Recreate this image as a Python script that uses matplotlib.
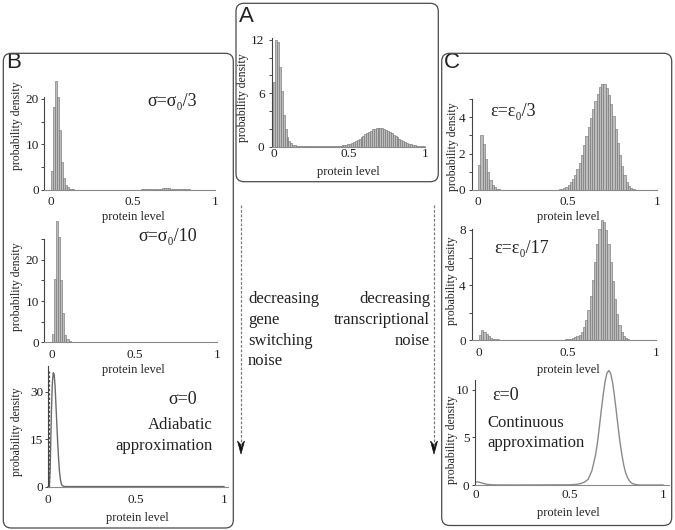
import matplotlib
matplotlib.use("Agg")
import matplotlib.pyplot as plt
from matplotlib.patches import FancyBboxPatch, Polygon
from matplotlib.lines import Line2D
import numpy as np

plt.rcParams['font.family'] = ['Liberation Serif', 'DejaVu Serif']

# ---------------- data ----------------
BIN_WIDTH = 0.0125

hist_A = [7.3, 12.0, 11.8, 9.0, 6.3, 3.6, 2.0, 1.1, 0.6, 0.35,
          0.22, 0.15, 0.10, 0.08, 0.06, 0.05, 0.05, 0.05, 0.05, 0.05,
          0.05, 0.05, 0.05, 0.05, 0.05, 0.05, 0.05, 0.05, 0.05, 0.05,
          0.05, 0.05, 0.05, 0.06, 0.07, 0.09, 0.12, 0.15, 0.20, 0.26,
          0.33, 0.42, 0.52, 0.63, 0.76, 0.90, 1.05, 1.20, 1.36, 1.52,
          1.67, 1.80, 1.92, 2.01, 2.07, 2.10, 2.10, 2.06, 2.00, 1.91,
          1.79, 1.66, 1.51, 1.35, 1.19, 1.04, 0.89, 0.75, 0.62, 0.51,
          0.41, 0.32, 0.25, 0.19, 0.15, 0.11, 0.08, 0.06, 0.04, 0.03]

hist_B1 = [4.2, 18.2, 24.0, 20.4, 13.2, 6.2, 2.6, 1.2, 0.6, 0.3,
           0.15, 0.08, 0.04, 0.03, 0.02, 0.02, 0.02, 0.02, 0.02, 0.02,
           0.02, 0.02, 0.02, 0.02, 0.02, 0.02, 0.02, 0.02, 0.02, 0.02,
           0.02, 0.02, 0.02, 0.02, 0.02, 0.02, 0.02, 0.02, 0.03, 0.04,
           0.05, 0.07, 0.08, 0.10, 0.12, 0.14, 0.17, 0.20, 0.22, 0.25,
           0.27, 0.29, 0.31, 0.32, 0.33, 0.34, 0.34, 0.33, 0.32, 0.31,
           0.29, 0.27, 0.24, 0.22, 0.19, 0.17, 0.14, 0.12, 0.10, 0.08,
           0.07, 0.05, 0.04, 0.03, 0.02, 0.02, 0.02, 0.02, 0.02, 0.02]

hist_B2 = [2.0, 15.3, 29.5, 25.5, 15.0, 7.0, 1.8, 0.8, 0.3, 0.15,
           0.05, 0.02]

hist_C1 = [1.4, 3.0, 2.5, 1.7, 1.0, 0.55, 0.3, 0.15, 0.08, 0.04,
           0.02, 0.01, 0.01, 0.01, 0.01, 0.01, 0.01, 0.01, 0.01, 0.01,
           0.01, 0.01, 0.01, 0.01, 0.01, 0.01, 0.01, 0.01, 0.01, 0.01,
           0.01, 0.01, 0.01, 0.01, 0.02, 0.02, 0.03, 0.05, 0.10, 0.18,
           0.28, 0.42, 0.60, 0.85, 1.15, 1.50, 1.95, 2.45, 2.95, 3.45,
           3.95, 4.45, 4.90, 5.30, 5.65, 5.85, 5.80, 5.60, 5.20, 4.70,
           4.05, 3.35, 2.60, 1.90, 1.30, 0.80, 0.45, 0.22, 0.10, 0.04,
           0.01, 0.01, 0.01, 0.01, 0.01, 0.01, 0.01, 0.01, 0.01, 0.01]

hist_C2 = [0.35, 0.72, 0.62, 0.45, 0.30, 0.20, 0.13, 0.09, 0.06, 0.04,
           0.03, 0.02, 0.01, 0.01, 0.0, 0.0, 0.0, 0.0, 0.0, 0.0,
           0.0, 0.0, 0.0, 0.0, 0.0, 0.0, 0.0, 0.0, 0.0, 0.0,
           0.0, 0.0, 0.01, 0.015, 0.02, 0.025, 0.03, 0.04, 0.05, 0.07,
           0.09, 0.12, 0.16, 0.22, 0.30, 0.42, 0.62, 0.95, 1.45, 2.20,
           3.20, 4.40, 5.70, 7.00, 8.10, 8.70, 8.60, 8.00, 7.00, 5.70,
           4.30, 3.00, 1.90, 1.10, 0.60, 0.30, 0.14, 0.06, 0.02, 0.0]

# adiabatic approximation (sigma = 0)
adiab_x = [0.0, 0.008, 0.012, 0.016, 0.020, 0.025, 0.030, 0.035, 0.040,
           0.045, 0.050, 0.055, 0.060, 0.065, 0.070, 0.075, 0.080, 0.090,
           0.100, 0.500, 1.000]
adiab_y = [0.0, 0.5, 5.0, 15.0, 25.0, 33.0, 36.0, 35.5, 32.0,
           26.0, 20.0, 14.0, 9.0, 5.0, 2.5, 1.0, 0.4, 0.1,
           0.05, 0.05, 0.05]
adiab_dash_x = [0.003, 0.003]
adiab_dash_y = [0.0, 36.5]

# continuous approximation (epsilon = 0)
cont_x = [0.00, 0.01, 0.02, 0.03, 0.04, 0.05, 0.06, 0.08, 0.10, 0.20,
          0.50, 0.54, 0.56, 0.58, 0.60, 0.62, 0.64, 0.65, 0.66, 0.67,
          0.68, 0.69, 0.70, 0.71, 0.72, 0.73, 0.74, 0.75, 0.76, 0.77,
          0.78, 0.79, 0.80, 0.81, 0.82, 0.83, 0.84, 0.86, 0.88, 1.00]
cont_y = [0.30, 0.32, 0.28, 0.22, 0.16, 0.11, 0.07, 0.03, 0.01, 0.0,
          0.02, 0.07, 0.15, 0.30, 0.60, 1.50, 3.20, 4.50, 6.10, 7.80,
          9.40, 10.8, 11.7, 12.0, 11.7, 10.8, 9.40, 7.80, 6.10, 4.50,
          3.20, 2.10, 1.30, 0.80, 0.45, 0.24, 0.12, 0.03, 0.0, 0.0]

x_ticks = [0, 0.5, 1]
x_ticklabels = ['0', '0.5', '1']

# ---------------- figure ----------------
W, H = 675, 530
fig = plt.figure(figsize=(W / 100, H / 100), dpi=100)
fig.patch.set_facecolor('white')

TXT = '#222222'
BAR_FC = '#bcbcbc'
BAR_EC = '#777777'


def px_axes(l, t, r, b):
    return fig.add_axes([l / W, 1 - b / H, (r - l) / W, (b - t) / H])


def ftext(x, y, s, **kw):
    kw.setdefault('color', TXT)
    return fig.text(x / W, 1 - y / H, s, **kw)


def style(ax, xlim, ylim, major, minor, xpad, ypad):
    ax.set_xlim(*xlim)
    ax.set_ylim(*ylim)
    ax.set_facecolor('none')
    for s in ('top', 'right'):
        ax.spines[s].set_visible(False)
    ax.spines['left'].set_color('#444444')
    ax.spines['left'].set_linewidth(0.8)
    ax.spines['bottom'].set_color('#8a8a8a')
    ax.spines['bottom'].set_linewidth(0.8)
    ax.set_xticks(x_ticks)
    ax.set_xticklabels(x_ticklabels)
    ax.set_yticks(major)
    ax.set_yticklabels([f'{v:g}' for v in major])
    ax.set_yticks(minor, minor=True)
    ax.tick_params(axis='x', length=0, pad=xpad, labelsize=9.5, labelcolor=TXT)
    ax.tick_params(axis='y', which='both', length=2.5, width=0.7, color='#444444',
                   direction='out', pad=ypad, labelsize=9.5, labelcolor=TXT)


def hist(ax, heights):
    centers = BIN_WIDTH * (np.arange(len(heights)) + 0.5)
    ax.bar(centers, heights, width=BIN_WIDTH, facecolor=BAR_FC, edgecolor=BAR_EC,
           linewidth=0.45, clip_on=False, zorder=2)


# Panel A
axA = px_axes(271.5, 38.2, 425, 146.5)
hist(axA, hist_A)
style(axA, (-0.012, 1.0), (0, 12.2), [0, 6, 12], [2, 4, 8, 10], 1.0, 2.5)

# Panel B
axB1 = px_axes(44, 96.7, 215, 190)
hist(axB1, hist_B1)
style(axB1, (-0.043, 1.0), (0, 20.5), [0, 10, 20], [5, 15], 4.5, 1.0)

axB2 = px_axes(43.8, 239.3, 217, 342.3)
hist(axB2, hist_B2)
style(axB2, (-0.05, 1.0), (0, 25), [0, 10, 20], [5, 15, 25], 4.5, 1.0)

axB3 = px_axes(48, 366.4, 227.5, 486.7)
axB3.plot(adiab_x, adiab_y, color='#6a6a6a', lw=1.0, clip_on=False)
axB3.plot(adiab_dash_x, adiab_dash_y, color='#555555', lw=0.9, ls=(0, (2, 1.5)),
          clip_on=False)
style(axB3, (0, 1.02), (0, 38), [0, 15, 30], [], 5.5, 1.0)

# Panel C
axC1 = px_axes(472, 99, 657, 190)
hist(axC1, hist_C1)
style(axC1, (-0.034, 1.0), (0, 5.0), [0, 2, 4], [1, 3, 5], 4.5, 2.5)

axC2 = px_axes(471.9, 228.6, 656, 340.3)
hist(axC2, hist_C2)
style(axC2, (-0.04, 1.0), (0, 8.1), [0, 4, 8], [2, 6], 5.0, 2.0)

axC3 = px_axes(475, 380, 668.6, 485)
axC3.plot(cont_x, cont_y, color='#8a8a8a', lw=1.0, clip_on=False)
style(axC3, (-0.005, 1.03), (0, 11), [0, 5, 10], [], 3.0, 1.5)

# axis labels
for (x, y) in [(243.3, 97.5), (16.7, 125.5), (16.7, 286.5), (16.7, 432),
               (453, 147), (452.5, 281), (452.5, 439.5)]:
    ftext(x, y, 'probability density', rotation=90, ha='center', va='center',
          fontsize=8.5)
for (x, y) in [(348, 172.5), (133, 217), (133, 370), (137, 518),
               (568, 216.7), (568, 370), (568, 513)]:
    ftext(x, y, 'protein level', ha='center', va='center', fontsize=9)

# panel annotations
ftext(147, 101.7, 'σ=σ₀/3', ha='left', va='center', fontsize=13)
ftext(138, 236.7, 'σ=σ₀/10', ha='left', va='center', fontsize=13)
ftext(168, 400, 'σ=0', ha='left', va='center', fontsize=13)
ftext(213, 425, 'Adiabatic', ha='right', va='center', fontsize=12)
ftext(213, 446, 'approximation', ha='right', va='center', fontsize=12)
ftext(490, 111.7, 'ε=ε₀/3', ha='left', va='center', fontsize=13)
ftext(494, 248.3, 'ε=ε₀/17', ha='left', va='center', fontsize=13)
ftext(492, 395, 'ε=0', ha='left', va='center', fontsize=13)
ftext(487, 423, 'Continuous', ha='left', va='center', fontsize=12)
ftext(487, 443, 'approximation', ha='left', va='center', fontsize=12)

# panel letters
for (x, y, s) in [(246, 16, 'A'), (14, 63, 'B'), (452, 63, 'C')]:
    ftext(x, y, s, ha='center', va='center', fontsize=16,
          family=['Liberation Sans', 'DejaVu Sans'])

# rounded boxes (pixel -> inches)
def rbox(l, t, r, b):
    p = FancyBboxPatch((l / 100, (H - b) / 100), (r - l) / 100, (b - t) / 100,
                       boxstyle='round,pad=0,rounding_size=0.08',
                       transform=fig.dpi_scale_trans, facecolor='none',
                       edgecolor='#4a4a4a', linewidth=0.9, zorder=5)
    fig.patches.append(p)

rbox(236, 3.3, 438.3, 181.7)
rbox(3.3, 53.3, 233.3, 528)
rbox(441.7, 53.3, 671.7, 525.5)

# dashed arrows
for x in (241, 434):
    fig.lines.append(Line2D([x / W, x / W], [1 - 205 / H, 1 - 446 / H],
                            transform=fig.transFigure, color='#7a7a7a', lw=0.9,
                            ls=(0, (2.2, 1.4))))
    fig.patches.append(Polygon([(x / W, 1 - 454 / H), ((x - 3.5) / W, 1 - 441 / H),
                                (x / W, 1 - 445 / H), ((x + 3.5) / W, 1 - 441 / H)],
                               closed=True, transform=fig.transFigure,
                               facecolor='#111111', edgecolor='#111111', lw=0.5))

ftext(248, 291, 'decreasing\ngene\nswitching\nnoise', ha='left', va='top',
      fontsize=12, linespacing=1.4)
ftext(430, 291, 'decreasing\ntranscriptional\nnoise', ha='right', va='top',
      fontsize=12, linespacing=1.4, multialignment='right')

fig.savefig('out.png', dpi=100)
